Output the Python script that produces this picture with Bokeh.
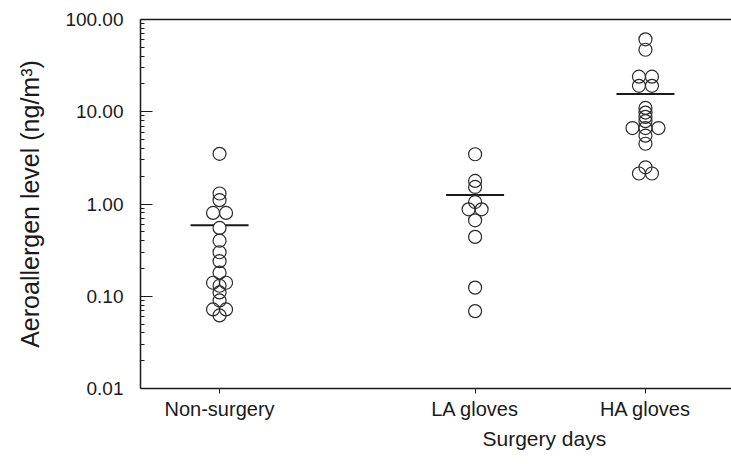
from bokeh.plotting import figure
from bokeh.models import (FixedTicker, PrintfTickFormatter, LinearAxis, Title,
                          ColumnDataSource)
from bokeh.transform import dodge
from bokeh.embed import file_html
from bokeh.resources import INLINE

# ---------------- data ----------------
groups = ["Non-surgery", "LA gloves", "HA gloves"]

# circles on the group's centre line
ns_mid = [3.5, 1.3, 1.1, 0.55, 0.40, 0.30, 0.24, 0.18, 0.13, 0.11, 0.09, 0.062]
la_mid = [3.46, 1.78, 1.53, 1.05, 0.665, 0.44, 0.124, 0.069]
ha_mid = [61.0, 47.0, 11.0, 9.8, 8.8, 7.9, 6.66, 5.5, 4.5, 2.5]
# values drawn as a side-by-side pair (two circles each)
ns_pair = [0.80, 0.14, 0.072]
la_pair = [0.876]
ha_pair = [24.0, 19.1, 2.14]
# a wider side-by-side pair
ha_wide = [6.66]

group_means = [0.59, 1.25, 15.6]

y_tick_values = [0.01, 0.1, 1, 10, 100]

# ---------------- layout helpers ----------------
slot = {"Non-surgery": 1.0, "LA gloves": 2.5, "HA gloves": 3.5}
X0, X1 = 0.536, 4.005
FRAME_W = 591
px = (X1 - X0) / FRAME_W


def build(lists):
    xs, ys = [], []
    for g, vals in zip(groups, lists):
        for v in vals:
            xs.append(slot[g])
            ys.append(v)
    return ColumnDataSource(dict(x=xs, y=ys))


mid_src = build([ns_mid, la_mid, ha_mid])
pair_src = build([ns_pair, la_pair, ha_pair])
wide_src = build([[], [], ha_wide])
mean_src = ColumnDataSource(dict(x=[slot[g] for g in groups], y=group_means))

FONT = "Liberation Sans"
INK = "#1a1a1a"

p = figure(width=731, height=464, y_axis_type="log",
           x_range=(X0, X1), y_range=(0.01, 100),
           output_backend="svg", toolbar_location=None,
           min_border_left=140, min_border_right=0,
           min_border_top=19, min_border_bottom=76)
p.grid.visible = False
p.outline_line_color = None
p.background_fill_color = "white"

# mean lines
p.scatter("x", "y", source=mean_src, marker="dash", size=58,
          line_color=INK, line_width=2)

# circles: fill pass then outline pass
CS = 13
pair_off = 6.5 * px
wide_off = 13 * px
layers = [(mid_src, "x"), (pair_src, dodge("x", -pair_off)), (pair_src, dodge("x", pair_off)),
          (wide_src, dodge("x", -wide_off)), (wide_src, dodge("x", wide_off))]
for src, xx in layers:
    p.scatter(x=xx, y="y", source=src, size=CS, fill_color="white",
              line_color=None)
for src, xx in layers:
    p.scatter(x=xx, y="y", source=src, size=CS, fill_color=None,
              line_color="#2a2a2a", line_width=1.2)

# y axis
minor = [m * d for d in [0.01, 0.1, 1, 10] for m in range(2, 10)]
ya = p.yaxis[0]
ya.ticker = FixedTicker(ticks=y_tick_values, minor_ticks=minor)
ya.formatter = PrintfTickFormatter(format="%.2f")
ya.major_tick_in = 12
ya.major_tick_out = 0
ya.minor_tick_in = 4
ya.minor_tick_out = 0
ya.major_label_standoff = 17
ya.major_label_text_font = FONT
ya.major_label_text_font_size = "19px"
ya.major_label_text_color = INK
ya.axis_label = "Aeroallergen level (ng/m³)"
ya.axis_label_text_font = FONT
ya.axis_label_text_font_size = "25px"
ya.axis_label_text_font_style = "normal"
ya.axis_label_text_color = INK
ya.axis_label_standoff = 18
ya.axis_line_color = INK
ya.axis_line_width = 1.5
ya.major_tick_line_color = INK
ya.minor_tick_line_color = INK

# x axis
xa = p.xaxis[0]
xa.ticker = FixedTicker(ticks=[slot[g] for g in groups])
xa.major_label_overrides = {slot[g]: g for g in groups}
xa.major_tick_in = 0
xa.major_tick_out = 5
xa.minor_tick_line_color = None
xa.major_label_standoff = 4
xa.major_label_text_font = FONT
xa.major_label_text_font_size = "20px"
xa.major_label_text_color = INK
xa.axis_line_color = INK
xa.axis_line_width = 1.5
xa.major_tick_line_color = INK

# top border line
top = LinearAxis(ticker=FixedTicker(ticks=[]), major_tick_out=0, major_tick_in=0,
                 major_label_standoff=0, major_label_text_font_size="0px",
                 axis_line_color=INK, axis_line_width=1.5,
                 minor_tick_line_color=None, major_tick_line_color=None)
p.add_layout(top, "above")

# group label under the surgery days
p.add_layout(Title(text="Surgery days", align="left", offset=342, standoff=4,
                   text_font=FONT, text_font_size="21px",
                   text_font_style="normal", text_color=INK), "below")

open("out.html", "w").write(file_html(p, INLINE))
